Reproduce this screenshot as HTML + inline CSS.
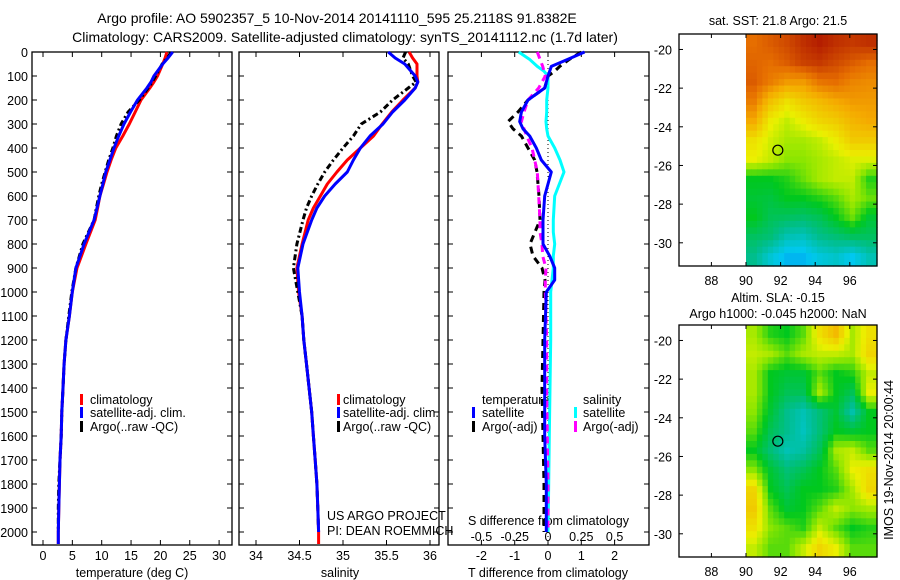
<!DOCTYPE html>
<html><head><meta charset="utf-8"><style>
html,body{margin:0;padding:0;background:#fff;}
svg{display:block;font-family:"Liberation Sans",sans-serif;}
text{font-size:12.5px;fill:#000;}
</style></head><body>
<svg id="c" width="900" height="580" viewBox="0 0 900 580" xmlns="http://www.w3.org/2000/svg">
<text x="337" y="23" text-anchor="middle" style="font-size:14px">Argo profile: AO 5902357_5 10-Nov-2014 20141110_595 25.2118S 91.8382E</text>
<text x="345" y="42" text-anchor="middle" style="font-size:14px">Climatology: CARS2009. Satellite-adjusted climatology: synTS_20141112.nc (1.7d later)</text>
<text x="778" y="25" text-anchor="middle">sat. SST: 21.8 Argo: 21.5</text>
<text x="778" y="302" text-anchor="middle">Altim. SLA: -0.15</text>
<text x="778" y="318" text-anchor="middle">Argo h1000: -0.045 h2000: NaN</text>
<text transform="translate(893,460) rotate(-90)" text-anchor="middle" style="font-size:12.5px">IMOS 19-Nov-2014 20:00:44</text>
<text x="90" y="404">climatology</text>
<text x="90" y="417">satellite-adj. clim.</text>
<text x="90" y="431">Argo(..raw -QC)</text>
<text x="343" y="404">climatology</text>
<text x="343" y="417">satellite-adj. clim.</text>
<text x="343" y="431">Argo(..raw -QC)</text>
<text x="482" y="404">temperature</text>
<text x="482" y="417">satellite</text>
<text x="482" y="431">Argo(-adj)</text>
<text x="583" y="404">salinity</text>
<text x="583" y="417">satellite</text>
<text x="583" y="431">Argo(-adj)</text>
<text x="327" y="520">US ARGO PROJECT</text>
<text x="327" y="535">PI: DEAN ROEMMICH</text>
<text x="468" y="525">S difference from climatology</text>
<text x="132" y="577" text-anchor="middle">temperature (deg C)</text>
<text x="340" y="577" text-anchor="middle">salinity</text>
<text x="548" y="577" text-anchor="middle">T difference from climatology</text>
</svg>
<script>
const svg=document.getElementById('c');
const NS='http://www.w3.org/2000/svg';
// ---- profile data ----
const depths=[0,25,50,100,125,150,200,250,300,350,400,450,500,550,600,650,700,800,900,1000,1100,1200,1300,1400,1500,1600,1700,1800,1900,2000,2050];
const tempClim=[21.1,20.8,20.4,19.5,18.9,18.2,16.7,15.7,14.7,13.6,12.4,11.6,10.9,10.3,9.7,9.3,8.9,7.3,5.8,5.0,4.5,3.9,3.6,3.4,3.2,3.1,2.9,2.8,2.7,2.6,2.6];
const tempSat=[22.1,21.3,20.4,18.9,18.4,17.7,16.1,14.9,13.8,12.9,12.1,11.4,10.7,10.2,9.7,9.2,8.7,7.0,5.6,5.0,4.5,3.9,3.6,3.4,3.2,3.1,2.9,2.8,2.7,2.6,2.6];
const tempArgo=[21.8,21.2,20.3,19.2,18.6,17.9,16.4,14.5,13.3,12.5,11.9,11.2,10.6,10.0,9.5,9.1,8.7,6.8,5.6,4.9,4.4,3.9,3.6,3.4,3.2,3.1,2.9,2.7,2.6,2.6,null];
const salClim=[35.76,35.80,35.85,35.85,35.86,35.83,35.69,35.56,35.45,35.35,35.20,35.05,34.93,34.82,34.74,34.66,34.60,34.53,34.47,34.49,34.53,34.55,34.58,34.61,34.64,34.66,34.68,34.70,34.71,34.72,34.72];
const salSat=[35.52,35.60,35.71,35.83,35.86,35.83,35.71,35.57,35.46,35.31,35.20,35.12,35.05,34.91,34.79,34.70,34.64,34.54,34.48,34.50,34.53,34.55,34.58,34.61,34.64,34.66,34.68,34.70,34.71,34.72,null];
const salArgo=[35.72,35.69,35.75,35.80,35.84,35.75,35.57,35.43,35.21,35.12,35.00,34.89,34.79,34.71,34.64,34.58,34.54,34.47,34.43,34.48,34.53,34.55,34.58,34.61,34.64,34.66,34.68,34.70,34.71,34.72,null];
const diffDepths=[0,30,60,80,100,150,200,250,290,320,350,400,450,500,600,700,750,800,850,900,950,1000,1200,1400,1600,1800,2000];
const tDiffSat=[1.1,0.6,0.1,0.05,0.0,-0.1,-0.6,-0.8,-0.85,-0.75,-0.55,-0.35,-0.2,0.1,-0.1,-0.15,-0.15,-0.15,0.05,0.2,0.2,-0.05,-0.1,-0.1,-0.1,-0.05,-0.05];
const tDiffArgo=[1.0,0.65,0.35,0.2,0.0,-0.1,-0.6,-0.9,-1.2,-1.05,-0.8,-0.6,-0.4,-0.33,-0.27,-0.24,-0.39,-0.54,-0.45,-0.18,-0.09,-0.12,-0.15,-0.18,-0.15,-0.12,-0.12];
const sDiffSat=[-0.22,-0.14,-0.08,-0.03,0.0,0.0,-0.01,-0.01,-0.015,-0.01,0.0,0.05,0.09,0.12,0.05,0.04,0.04,0.05,0.04,0.04,0.03,0.02,0.02,0.015,0.01,0.005,0.0];
const sDiffArgo=[-0.08,-0.06,-0.04,-0.03,-0.02,-0.07,-0.15,-0.18,-0.2,-0.18,-0.16,-0.12,-0.1,-0.08,-0.07,-0.06,-0.06,-0.045,-0.04,-0.015,-0.02,-0.02,-0.01,-0.01,-0.005,0.0,0.0];
const depthTicks=[0,100,200,300,400,500,600,700,800,900,1000,1100,1200,1300,1400,1500,1600,1700,1800,1900,2000];
const tempTicks=[0,5,10,15,20,25,30];
const salTicks=[34,34.5,35,35.5,36];
const salTickLabels=['34','34.5','35','35.5','36'];
const tDiffTicks=[-2,-1,0,1,2];
const sDiffTicks=[-0.5,-0.25,0,0.25,0.5];
const sDiffTickLabels=['-0.5','-0.25','0','0.25','0.5'];
// ---- map data (value 0..1 colour index), rows lat -19.2 -> -31.2, cols lon 90 -> 97.6 ----
const mapLonTicks=[88,90,92,94,96];
const mapLatTicks=[-20,-22,-24,-26,-28,-30];
const sstGrid=[
[.86,.88,.90,.93,.95,.93,.92,.93],
[.87,.86,.88,.91,.92,.90,.88,.86],
[.88,.84,.80,.80,.85,.86,.83,.82],
[.84,.74,.68,.72,.75,.78,.80,.80],
[.78,.66,.62,.66,.70,.72,.76,.78],
[.68,.63,.60,.60,.62,.66,.72,.72],
[.65,.62,.58,.58,.60,.62,.64,.64],
[.50,.50,.52,.56,.60,.62,.62,.52],
[.48,.47,.50,.50,.52,.55,.60,.56],
[.50,.45,.44,.43,.45,.50,.56,.48],
[.44,.42,.36,.35,.40,.42,.44,.44],
[.40,.33,.28,.28,.32,.34,.30,.36]];
const slaGrid=[
[.60,.52,.50,.55,.68,.75,.60,.68],
[.62,.60,.55,.60,.62,.62,.60,.70],
[.60,.50,.48,.48,.55,.50,.52,.62],
[.60,.50,.45,.45,.60,.50,.45,.65],
[.58,.48,.40,.36,.42,.48,.37,.50],
[.55,.45,.40,.35,.42,.50,.48,.50],
[.50,.42,.36,.38,.45,.60,.62,.55],
[.58,.48,.42,.45,.50,.55,.65,.68],
[.70,.50,.45,.50,.50,.52,.60,.70],
[.72,.55,.48,.50,.55,.62,.58,.60],
[.68,.58,.55,.52,.62,.55,.50,.52],
[.62,.55,.55,.62,.70,.65,.55,.55]];
const argoLon=91.84, argoLat=-25.21;

function el(tag,attrs,parent){const e=document.createElementNS(NS,tag);for(const k in attrs)e.setAttribute(k,attrs[k]);(parent||svg).appendChild(e);return e;}
const yD=d=>52+0.24*d;
const xT=t=>43+5.87*t;
const xS=s=>256+87*(s-34);
const xTd=v=>548+33.3*v;
const xSd=v=>548+133.2*v;

function profile(vals,ds,xf,color,name,dash){
  let pts=[];for(let i=0;i<vals.length;i++){if(vals[i]==null)continue;pts.push(xf(vals[i]).toFixed(1)+','+yD(ds[i]).toFixed(1));}
  const p=el('polyline',{points:pts.join(' '),fill:'none',stroke:color,'stroke-width':3,'stroke-linejoin':'round'});
  if(dash)p.setAttribute('stroke-dasharray',dash);
  
  
}
function panel(x0,x1,name){
  const r=el('rect',{x:x0,y:52,width:x1-x0,height:493,fill:'none',stroke:'#000','stroke-width':1.3});
  
  
  for(const d of depthTicks){el('line',{x1:x0,x2:x0+5,y1:yD(d),y2:yD(d),stroke:'#000'});el('line',{x1:x1-5,x2:x1,y1:yD(d),y2:yD(d),stroke:'#000'});}
}
function xticks(ticks,labels,xf,x0,x1,ly,name){
  ticks.forEach((t,i)=>{const x=xf(t);el('line',{x1:x,x2:x,y1:545,y2:540,stroke:'#000'});el('line',{x1:x,x2:x,y1:52,y2:57,stroke:'#000'});
    if(ly){const tx=el('text',{x:x,y:ly,'text-anchor':'middle'});tx.textContent=labels[i];
    
    }});
}
panel(32,232,'temperature-panel');panel(239,439,'salinity-panel');panel(448,649,'difference-panel');
depthTicks.forEach(d=>{const t=el('text',{x:28,y:yD(d)+5,'text-anchor':'end'});t.textContent=d;
  
  });
xticks(tempTicks,tempTicks.map(String),xT,32,232,560,'temperature-tick-label');
xticks(salTicks,salTickLabels,xS,239,439,560,'salinity-tick-label');
xticks(tDiffTicks,tDiffTicks.map(String),xTd,448,649,560,'t-diff-tick-label');
sDiffTicks.forEach((t,i)=>{const tx=el('text',{x:xSd(t),y:541,'text-anchor':'middle'});tx.textContent=sDiffTickLabels[i];
  
  });
const zl=el('line',{x1:xTd(0),x2:xTd(0),y1:52,y2:545,stroke:'#000','stroke-dasharray':'1,3'});


profile(tempClim,depths,xT,'#f00','temp-climatology-line');
profile(tempArgo,depths,xT,'#000','temp-argo-line','6,3,2,3');
profile(tempSat,depths,xT,'#00f','temp-satellite-line');
profile(salClim,depths,xS,'#f00','sal-climatology-line');
profile(salArgo,depths,xS,'#000','sal-argo-line','6,3,2,3');
profile(salSat,depths,xS,'#00f','sal-satellite-line');
profile(sDiffSat,diffDepths,xSd,'#0ff','s-diff-satellite-line');
profile(tDiffArgo,diffDepths,xTd,'#000','t-diff-argo-line','7,5');
profile(sDiffArgo,diffDepths,xSd,'#f0f','s-diff-argo-line','7,5');
profile(tDiffSat,diffDepths,xTd,'#00f','t-diff-satellite-line');
[[80,394,'#f00'],[80,407,'#00f'],[80,421,'#000'],[337,394,'#f00'],[337,407,'#00f'],[337,421,'#000'],[472,407,'#00f'],[472,421,'#000'],[574,407,'#0ff'],[574,421,'#f0f']].forEach(s=>{
  const r=el('rect',{x:s[0],y:s[1],width:3,height:11,fill:s[2]});
  
  });
const stops=[[0,[20,40,200]],[0.2,[0,110,240]],[0.3,[0,200,240]],[0.4,[0,190,140]],[0.5,[0,200,30]],[0.58,[140,230,0]],[0.65,[235,240,0]],[0.78,[245,170,0]],[0.86,[230,110,0]],[0.95,[180,30,0]],[1,[150,0,0]]];
function cmap(v){for(let i=1;i<stops.length;i++){if(v<=stops[i][0]){const a=stops[i-1],b=stops[i],f=(v-a[0])/(b[0]-a[0]);return 'rgb('+a[1].map((c,k)=>Math.round(c+f*(b[1][k]-c))).join(',')+')';}}return 'rgb(150,0,0)';}
function map(top,grid,name){
  const L=679,R=877,H=232;
  const xL=lon=>746+17.3*(lon-90);
  const yL=lat=>top+ (-19.2-lat)*(H/12);
  const ny=grid.length,nx=grid[0].length,cw=(R-746)/nx,ch=H/ny;
  const sub=3;
  for(let j=0;j<ny*sub;j++)for(let i=0;i<nx*sub;i++){
    const fy=Math.min(Math.max((j+0.5)/sub-0.5,0),ny-1),fx=Math.min(Math.max((i+0.5)/sub-0.5,0),nx-1);
    const j0=Math.floor(fy),i0=Math.floor(fx),j1=Math.min(j0+1,ny-1),i1=Math.min(i0+1,nx-1),a=fy-j0,b=fx-i0;
    const v=grid[j0][i0]*(1-a)*(1-b)+grid[j0][i1]*(1-a)*b+grid[j1][i0]*a*(1-b)+grid[j1][i1]*a*b;
    const c=el('rect',{x:(746+i*cw/sub).toFixed(2),y:(top+j*ch/sub).toFixed(2),width:(cw/sub+0.6).toFixed(2),height:(ch/sub+0.6).toFixed(2),fill:cmap(v)});
    
    
  }
  const fr=el('rect',{x:L,y:top,width:R-L,height:H,fill:'none',stroke:'#000','stroke-width':1.3});
  
  
  mapLonTicks.forEach(l=>{const x=xL(l);el('line',{x1:x,x2:x,y1:top,y2:top+4,stroke:'#000'});el('line',{x1:x,x2:x,y1:top+H,y2:top+H-4,stroke:'#000'});
    const t=el('text',{x:x,y:top+H+19,'text-anchor':'middle'});t.textContent=l;
    
    });
  mapLatTicks.forEach(l=>{const y=yL(l);el('line',{x1:L,x2:L+4,y1:y,y2:y,stroke:'#000'});el('line',{x1:R,x2:R-4,y1:y,y2:y,stroke:'#000'});
    const t=el('text',{x:672,y:y+5,'text-anchor':'end'});t.textContent=l;
    
    });
  const m=el('circle',{cx:xL(argoLon),cy:yL(argoLat),r:5,fill:'none',stroke:'#000','stroke-width':1.2});
  
  
}
map(34,sstGrid,'sst-map');
map(325,slaGrid,'sla-map');
</script>
</body></html>
